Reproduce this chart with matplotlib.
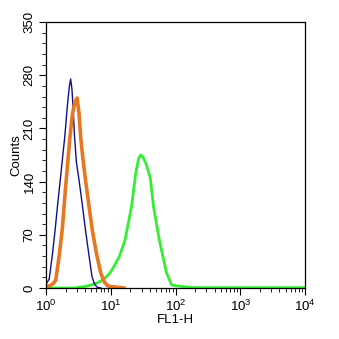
import numpy as np
import matplotlib
matplotlib.use('Agg')
import matplotlib.pyplot as plt
from matplotlib.ticker import MultipleLocator, LogLocator, FixedLocator

plt.rcParams['font.family'] = ['Liberation Sans', 'DejaVu Sans']

# FL1-H positions given in decades (log10), counts
blue_dec = [0.00, 0.05, 0.10, 0.14, 0.18, 0.22, 0.26, 0.29, 0.33, 0.36, 0.38,
            0.40, 0.42, 0.44, 0.47, 0.51, 0.56, 0.61, 0.66, 0.71, 0.75, 0.79, 0.85]
blue_cnt = [5, 12, 45, 76, 110, 142, 175, 199, 240, 265, 275,
            262, 235, 200, 165, 142, 110, 76, 45, 15, 5, 1, 0]

orange_dec = [0.00, 0.06, 0.10, 0.15, 0.20, 0.25, 0.30, 0.33, 0.37, 0.41, 0.45,
              0.48, 0.51, 0.535, 0.57, 0.61, 0.66, 0.715, 0.78, 0.845, 0.90,
              0.95, 1.00, 1.10, 1.20]
orange_cnt = [2, 3, 5, 10, 40, 76, 130, 160, 199, 230, 245,
              250, 230, 199, 170, 142, 110, 76, 45, 20, 8,
              3, 2, 1, 0]

green_dec = [0.00, 0.45, 0.50, 0.60, 0.70, 0.80, 0.90, 0.99, 1.06, 1.13, 1.22,
             1.27, 1.32, 1.385, 1.43, 1.46, 1.50, 1.55, 1.61, 1.66, 1.75, 1.86,
             1.94, 2.00, 2.10, 2.20, 2.30, 4.00]
green_cnt = [0, 0, 1, 2, 4, 7, 12, 20, 30, 41, 63,
             85, 107, 151, 170, 175, 172, 162, 145, 107, 63, 20,
             4, 3, 2, 1, 0.5, 0.5]

y_ticks = [0, 70, 140, 210, 280, 350]

fig = plt.figure(figsize=(3.39, 3.39), dpi=100)
ax = fig.add_axes([0.1357, 0.1504, 0.7643, 0.7846])

ax.plot(10 ** np.array(green_dec), green_cnt, color='#33ee33', lw=2.0)
ax.plot(10 ** np.array(blue_dec), blue_cnt, color='#10108a', lw=1.0)
ax.plot(10 ** np.array(orange_dec), orange_cnt, color='#e87722', lw=2.6)

ax.set_xscale('log')
ax.set_xlim(1, 1e4)
ax.set_ylim(0, 350)
ax.yaxis.set_major_locator(FixedLocator(y_ticks))
ax.yaxis.set_minor_locator(MultipleLocator(14))
ax.xaxis.set_major_locator(LogLocator(base=10))
ax.xaxis.set_minor_locator(LogLocator(base=10, subs=np.arange(2, 10)))

ax.tick_params(which='major', direction='out', length=5, width=0.8,
               labelsize=9.5, pad=2.5)
ax.tick_params(which='minor', direction='out', length=3, width=0.6)
for lbl in ax.get_yticklabels():
    lbl.set_rotation(90)
    lbl.set_va('center')

for s in ax.spines.values():
    s.set_linewidth(0.9)

ax.set_ylabel('Counts', fontsize=9.5, labelpad=1)
ax.set_xlabel('FL1-H', fontsize=9.5, labelpad=0)

fig.savefig('out.png', dpi=100)
